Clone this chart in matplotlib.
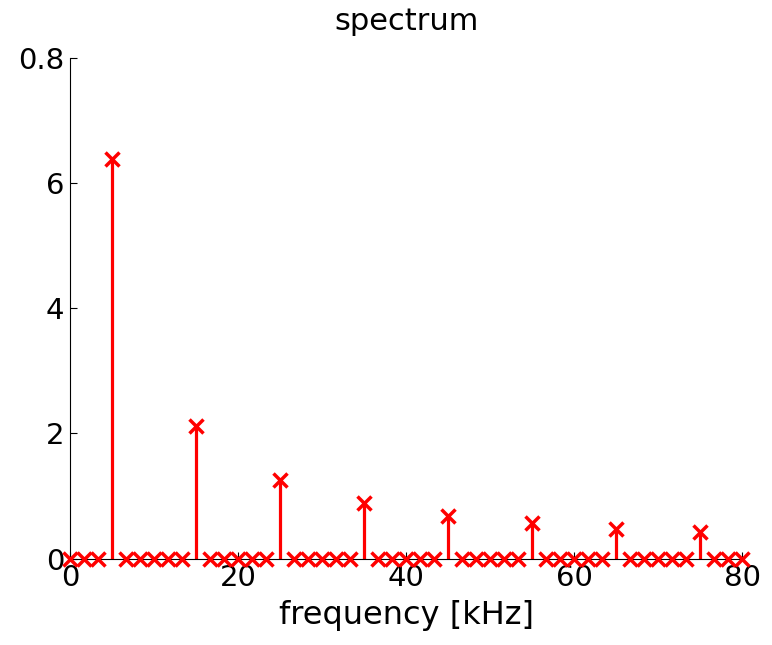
import numpy as np
import matplotlib
matplotlib.use("Agg")
import matplotlib.pyplot as plt

# Frequency bins in kHz (spacing 5/3 kHz, 0 .. 80)
freq_khz = np.linspace(0, 80, 49)

# Magnitude in each bin: odd harmonics of 5 kHz, everything else zero
magnitude = [
    0, 0, 0, 6.38, 0, 0, 0, 0, 0, 2.12,
    0, 0, 0, 0, 0, 1.26, 0, 0, 0, 0,
    0, 0.89, 0, 0, 0, 0, 0, 0.68, 0, 0,
    0, 0, 0, 0.57, 0, 0, 0, 0, 0, 0.47,
    0, 0, 0, 0, 0, 0.42, 0, 0, 0,
]

y_ticks = [0, 2, 4, 6, 8]
y_tick_labels = ["0", "2", "4", "6", "0.8"]
x_ticks = [0, 20, 40, 60, 80]

fig = plt.figure(figsize=(7.72, 6.45), dpi=100)
ax = fig.add_axes([0.0907, 0.134, 0.871, 0.776])

markerline, stemlines, baseline = ax.stem(freq_khz, magnitude, linefmt="r-",
                                          markerfmt="rx", basefmt=" ")
plt.setp(stemlines, linewidth=2.3)
plt.setp(markerline, markersize=10, markeredgewidth=2.5, clip_on=False, zorder=3)

ax.set_xlim(0, 80)
ax.set_ylim(0, 8)
ax.set_xticks(x_ticks)
ax.set_yticks(y_ticks)
ax.set_yticklabels(y_tick_labels)

for side in ("top", "right"):
    ax.spines[side].set_visible(False)
for side in ("left", "bottom"):
    ax.spines[side].set_linewidth(0.8)
ax.tick_params(direction="in", length=5, width=0.8, labelsize=21, pad=4)

ax.set_title("spectrum", fontsize=22, pad=20)
ax.set_xlabel("frequency [kHz]", fontsize=23, labelpad=6)

fig.savefig("out.png", dpi=100)
